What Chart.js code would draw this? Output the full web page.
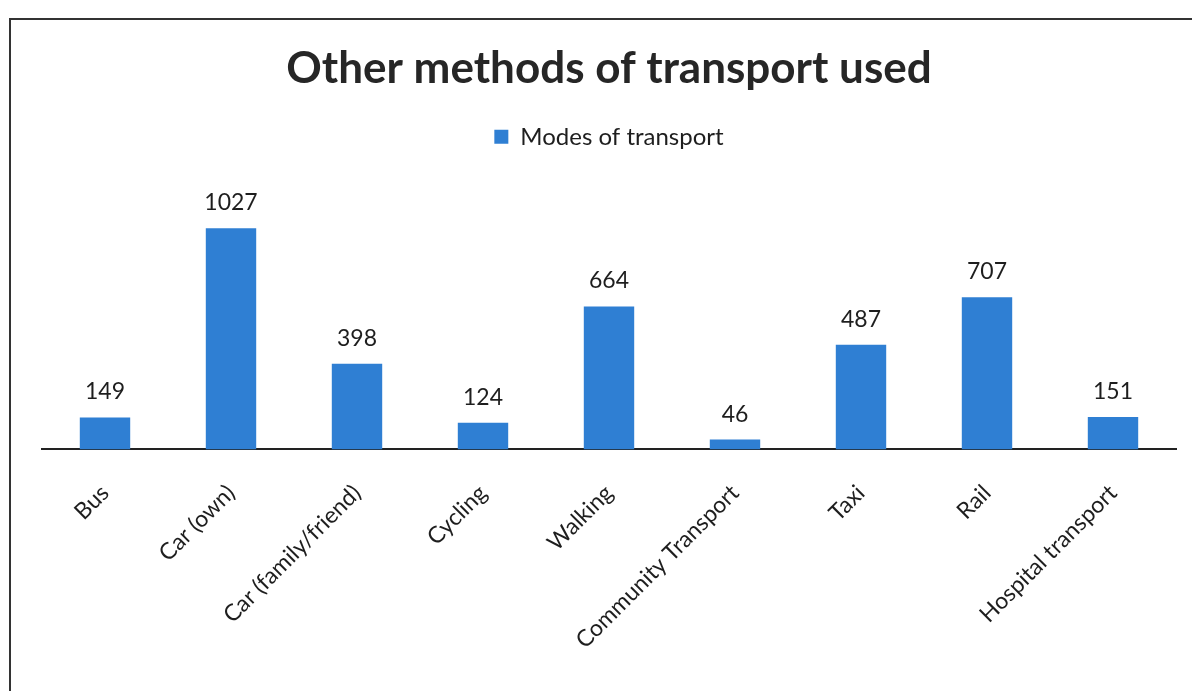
<!DOCTYPE html>
<html>
<head>
<meta charset="utf-8">
<script src="https://cdn.jsdelivr.net/npm/chart.js@4.4.1/dist/chart.umd.min.js"></script>
<style>
	html, body { margin: 0; padding: 0; background: #fff; overflow: hidden; }
	#frame { position: absolute; left: 9px; top: 18px; width: 1200px; height: 690px;
		border-left: 2px solid #333; border-top: 2px solid #333; }
	#myChart { position: absolute; left: 0; top: 0; }
</style>
</head>
<body>
<div id="frame"></div>
<canvas id="myChart" width="1192" height="691"></canvas>
<script>
// chart data
var categories = ["Bus", "Car (own)", "Car (family/friend)", "Cycling", "Walking",
	"Community Transport", "Taxi", "Rail", "Hospital transport"];
var transportCounts = [149, 1027, 398, 124, 664, 46, 487, 707, 151];
var seriesName = "Modes of transport";

// draws the number above each bar
var valueLabels = {
	id: "valueLabels",
	afterDatasetsDraw: function(chart) {
		var ctx = chart.ctx;
		var meta = chart.getDatasetMeta(0);
		ctx.save();
		ctx.font = "23px Lato";
		ctx.fillStyle = "#1e1e1e";
		ctx.textAlign = "center";
		ctx.textBaseline = "bottom";
		meta.data.forEach(function(bar, i) {
			ctx.fillText(chart.data.datasets[0].data[i], bar.x, bar.y - 14);
		});
		ctx.restore();
	}
};

new Chart(document.getElementById("myChart"), {
	type: "bar",
	data: {
		labels: categories,
		datasets: [{
			label: seriesName,
			data: transportCounts,
			backgroundColor: "#2f7fd3",
			borderWidth: 0,
			barPercentage: 0.8,
			categoryPercentage: 0.5
		}]
	},
	options: {
		responsive: false,
		animation: false,
		layout: { padding: { left: 42, right: 16, top: 42, bottom: 15 } },
		plugins: {
			title: {
				display: true,
				text: "Other methods of transport used",
				color: "#262626",
				font: { family: "Lato", size: 44, weight: "bold" },
				padding: { top: 0, bottom: 20 }
			},
			legend: {
				display: true,
				labels: {
					color: "#1e1e1e",
					font: { family: "Lato", size: 24 },
					boxWidth: 14,
					boxHeight: 14,
					padding: 10
				}
			},
			tooltip: { enabled: false }
		},
		scales: {
			x: {
				grid: { display: false },
				border: { display: true, color: "#222", width: 2 },
				ticks: {
					color: "#1e1e1e",
					font: { family: "Lato", size: 23 },
					minRotation: 45,
					maxRotation: 45,
					padding: 22
				}
			},
			y: {
				display: false,
				min: 0,
				max: 1350
			}
		}
	},
	plugins: [valueLabels]
});
</script>
</body>
</html>
